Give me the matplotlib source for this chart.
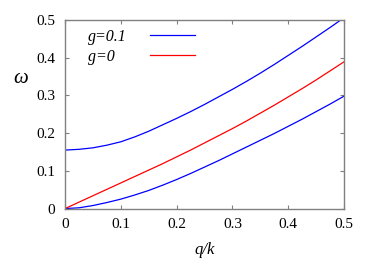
import matplotlib
matplotlib.use('Agg')
import matplotlib.pyplot as plt

q = [0.0, 0.025, 0.05, 0.075, 0.1, 0.125, 0.15, 0.175, 0.2, 0.225, 0.25,
     0.275, 0.3, 0.325, 0.35, 0.375, 0.4, 0.425, 0.45, 0.475, 0.5]

# g=0.1 : two branches
w_g01_upper = [0.155, 0.157, 0.161, 0.168, 0.177, 0.190, 0.205, 0.222, 0.239, 0.257, 0.276,
               0.296, 0.316, 0.337, 0.359, 0.382, 0.406, 0.430, 0.455, 0.480, 0.506]
w_g01_lower = [0.0, 0.002, 0.008, 0.016, 0.025, 0.036, 0.048, 0.062, 0.077, 0.093, 0.110,
               0.127, 0.145, 0.163, 0.181, 0.199, 0.218, 0.237, 0.257, 0.277, 0.298]

# g=0
w_g0 = [0.0, 0.017, 0.034, 0.051, 0.068, 0.085, 0.102, 0.119, 0.137, 0.155, 0.174,
        0.193, 0.212, 0.232, 0.253, 0.274, 0.296, 0.318, 0.341, 0.365, 0.389]

xticks = [0, 0.1, 0.2, 0.3, 0.4, 0.5]
yticks = [0, 0.1, 0.2, 0.3, 0.4, 0.5]
tick_labels = ['0', '0.1', '0.2', '0.3', '0.4', '0.5']

plt.rcParams['font.family'] = ['Liberation Serif', 'DejaVu Serif']
plt.rcParams['mathtext.fontset'] = 'custom'
plt.rcParams['mathtext.it'] = 'Liberation Serif:italic'
plt.rcParams['mathtext.rm'] = 'Liberation Serif'

fig = plt.figure(figsize=(3.74, 2.62), dpi=100)
ax = fig.add_axes([0.174, 0.204, 0.746, 0.72])

ax.plot(q, w_g01_upper, color='#0000ff', lw=0.9, label='g=0.1')
ax.plot(q, w_g01_lower, color='#0000ff', lw=0.9)
ax.plot(q, w_g0, color='#ff0000', lw=0.9, label='g=0   ')

ax.set_xlim(0, 0.5)
ax.set_ylim(0, 0.5)
ax.set_xticks(xticks)
ax.set_xticklabels(tick_labels)
ax.set_yticks(yticks)
ax.set_yticklabels(tick_labels)

for s in ax.spines.values():
    s.set_color('#808080')
    s.set_linewidth(1.0)
ax.tick_params(direction='in', length=3, width=0.8, color='#808080',
               labelsize=11, top=True, right=True, pad=7)

ax.set_xlabel('q/k', fontsize=12, style='italic', labelpad=8)
ax.set_ylabel(r'$\omega$', fontsize=15, rotation=0, labelpad=14)
ax.yaxis.set_label_coords(-0.16, 0.64)

leg = ax.legend(loc='upper left', bbox_to_anchor=(0.082, 0.952), frameon=False,
                markerfirst=False, handlelength=2.8, handletextpad=1.45,
                labelspacing=0.25, borderpad=0, borderaxespad=0,
                prop={'style': 'italic', 'size': 11.5})

fig.savefig('out.png', dpi=100)
